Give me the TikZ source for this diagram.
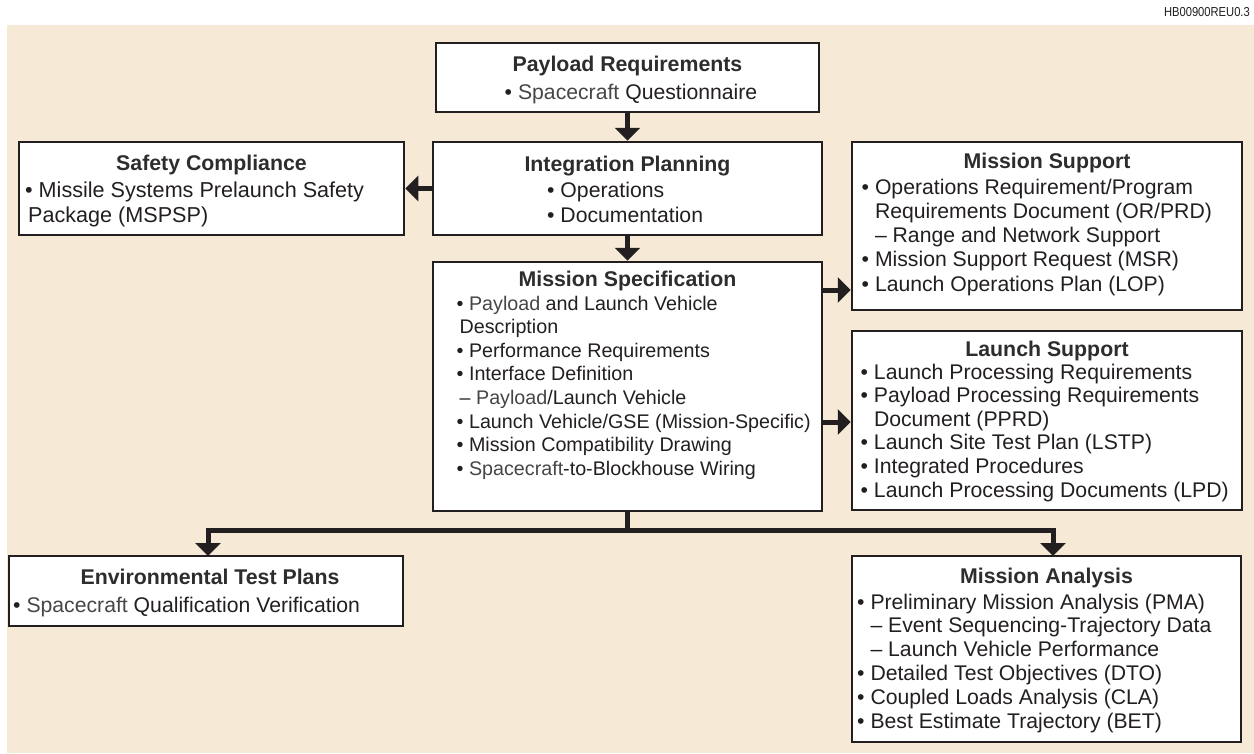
\documentclass[tikz,border=0pt]{standalone}
\usepackage{fontspec}
\setmainfont{Liberation Sans}
\usetikzlibrary{arrows.meta}
\definecolor{bgc}{RGB}{246,234,215}
\definecolor{ink}{RGB}{35,31,32}
\definecolor{gwc}{RGB}{70,70,70}
\definecolor{ttlc}{RGB}{45,45,45}
\newlength\bw
\newcommand\gw[1]{\textcolor{gwc}{#1}}
\newcommand\bodyfont[2]{\fontsize{#1}{#2}\selectfont\settowidth\bw{•\ }}
\newcommand\itm[1]{•\ #1\par}
\newcommand\cnt[1]{\hspace*{\bw}#1\par}
\newcommand\cns[1]{\hspace*{3pt}#1\par}
\newcommand\sbi[1]{\hspace*{\bw}–\ #1\par}
\newcommand\sbs[1]{\hspace*{3pt}–\ #1\par}
\begin{document}
\begin{tikzpicture}[x=1pt,y=-1pt,
  box/.style={draw=ink, line width=2.5pt, fill=white, inner sep=0pt},
  ttl/.style={anchor=base, inner sep=0pt, text=ttlc, font=\fontsize{21.3}{24}\selectfont\bfseries},
  body/.style={anchor=base west, inner sep=0pt, text=ink},
  arr/.style={draw=ink, line width=5pt, -{Triangle[width=25pt,length=13pt]}},
  conn/.style={draw=ink, line width=5pt}]
\useasboundingbox (0,0) rectangle (1254,753);
\fill[bgc] (7,25) rectangle (1254,753);
\node[anchor=base east, inner sep=0pt, text=ink, font=\fontsize{13}{15}\selectfont] (code) at (1250,16) {\scalebox{0.86}[1]{HB00900REU0.3}};

% boxes
\node[box, minimum width=383pt, minimum height=69pt] (pr) at (627.5,77.5) {};
\node[box, minimum width=389pt, minimum height=93pt] (ip) at (627.5,188.5) {};
\node[box, minimum width=385pt, minimum height=93pt] (sc) at (211.5,188.5) {};
\node[box, minimum width=389pt, minimum height=249pt] (ms) at (627.5,386.5) {};
\node[box, minimum width=390pt, minimum height=168pt] (msup) at (1047,226) {};
\node[box, minimum width=390pt, minimum height=179pt] (ls) at (1047,420.5) {};
\node[box, minimum width=394pt, minimum height=70pt] (env) at (206,591) {};
\node[box, minimum width=389pt, minimum height=186pt] (ma) at (1046.5,649) {};

% texts
\node[ttl] (pr-t) at (627.5,71) {Payload Requirements};
\node[body, anchor=base] (pr-b) at (631,99) {\bodyfont{21.2}{24}•\ \gw{Spacecraft} Questionnaire};

\node[ttl] (ip-t) at (627.5,171) {Integration Planning};
\node[body] (ip-b) at (547,197.5) {\parbox[t]{300pt}{\bodyfont{21.2}{25}\itm{Operations}\itm{Documentation}}};

\node[ttl] (sc-t) at (211.5,170) {Safety Compliance};
\node[body] (sc-b) at (25,197) {\parbox[t]{420pt}{\bodyfont{21.6}{25}\itm{Missile Systems Prelaunch Safety}\cns{Package (MSPSP)}}};

\node[ttl] (ms-t) at (627.5,286) {Mission Specification};
\node[body] (ms-b) at (456.5,310) {\parbox[t]{420pt}{\bodyfont{19.7}{23.6}%
\itm{\gw{Payload} and Launch Vehicle}
\cns{Description}
\itm{Performance Requirements}
\itm{Interface Definition}
\sbs{\gw{Payload}/Launch Vehicle}
\itm{Launch Vehicle/GSE (Mission-Specific)}
\itm{Mission Compatibility Drawing}
\itm{\gw{Spacecraft}-to-Blockhouse Wiring}}};

\node[ttl] (msup-t) at (1047,168) {Mission Support};
\node[body] (msup-b) at (861.5,194) {\parbox[t]{420pt}{\bodyfont{21.2}{24.25}%
\itm{Operations Requirement/Program}
\cnt{Requirements Document (OR/PRD)}
\sbi{Range and Network Support}
\itm{Mission Support Request (MSR)}
\itm{Launch Operations Plan (LOP)}}};

\node[ttl] (ls-t) at (1047,356) {Launch Support};
\node[body] (ls-b) at (860.5,379) {\parbox[t]{420pt}{\bodyfont{21.2}{23.6}%
\itm{Launch Processing Requirements}
\itm{Payload Processing Requirements}
\cnt{Document (PPRD)}
\itm{Launch Site Test Plan (LSTP)}
\itm{Integrated Procedures}
\itm{Launch Processing Documents (LPD)}}};

\node[ttl] (env-t) at (210,584) {Environmental Test Plans};
\node[body] (env-b) at (13,612) {\parbox[t]{420pt}{\bodyfont{21.2}{24}\itm{\gw{Spacecraft} Qualification Verification}}};

\node[ttl] (ma-t) at (1046.5,583) {Mission Analysis};
\node[body] (ma-b) at (857,609) {\parbox[t]{420pt}{\bodyfont{21.2}{23.8}%
\itm{Preliminary Mission Analysis (PMA)}
\sbi{Event Sequencing-Trajectory Data}
\sbi{Launch Vehicle Performance}
\itm{Detailed Test Objectives (DTO)}
\itm{Coupled Loads Analysis (CLA)}
\itm{Best Estimate Trajectory (BET)}}};

% connectors
\draw[arr] (pr.south) -- (ip.north);
\draw[arr] (ip.south) -- (ms.north);
\draw[arr] (ip.west) -- (sc.east);
\draw[arr] (ms.east |- 0,290) -- (msup.west |- 0,290);
\draw[arr] (ms.east |- 0,422) -- (ls.west |- 0,422);
\coordinate (jn) at (627.5,530);
\coordinate (envtop) at (208,556);
\coordinate (matop) at (1053,556);
\draw[conn] (ms.south) -- (jn);
\draw[arr] ([xshift=2.5pt]jn) -| (envtop);
\draw[arr] ([xshift=-2.5pt]jn) -| (matop);
\end{tikzpicture}
\end{document}
